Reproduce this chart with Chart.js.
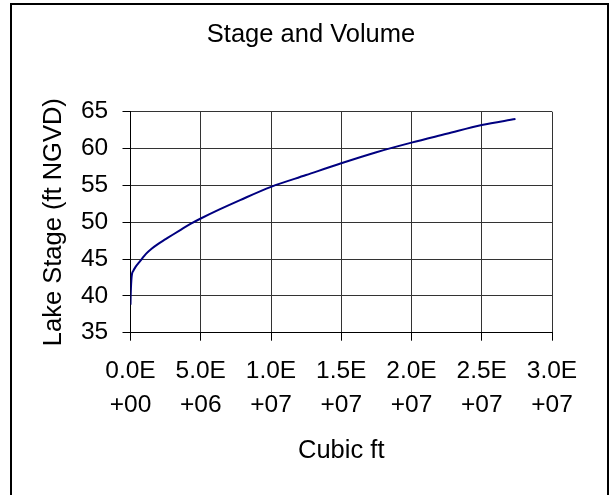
<!DOCTYPE html>
<html><head><meta charset="utf-8">
<script src="https://cdn.jsdelivr.net/npm/chart.js@4/dist/chart.umd.min.js"></script>
<style>
html,body{margin:0;padding:0;background:#fff;overflow:hidden;width:611px;height:495px}
#wrap{position:relative;width:611px;height:495px;overflow:hidden}
#frame{position:absolute;left:10px;top:3px;width:595px;height:600px;border:2px solid #000;pointer-events:none}
canvas{position:absolute;left:0;top:0}
</style></head><body>
<div id="wrap"><canvas id="c" width="611" height="495"></canvas><div id="frame"></div></div>
<script>
const chartTitle = 'Stage and Volume';
const xTitle = 'Cubic ft';
const yTitle = 'Lake Stage (ft NGVD)';
const volume = [0, 10000, 30000, 60000, 100000, 200000, 350000, 550000, 800000, 1100000, 1500000, 2000000, 2500000, 3000000, 3600000, 4300000, 5000000, 6300000, 7800000, 10000000, 12500000, 15000000, 17500000, 20000000, 22500000, 25000000, 27400000];
const stage  = [38.8, 39.8, 41.0, 42.1, 42.9, 43.4, 43.9, 44.4, 45.0, 45.7, 46.4, 47.1, 47.7, 48.3, 49.0, 49.8, 50.5, 51.7, 53.0, 54.8, 56.4, 58.0, 59.5, 60.8, 62.0, 63.2, 64.0];
const xTickLabels = [['0.0E','+00'],['5.0E','+06'],['1.0E','+07'],['1.5E','+07'],['2.0E','+07'],['2.5E','+07'],['3.0E','+07']];
const yTickLabels = ['35','40','45','50','55','60','65'];

const F = "'Liberation Sans', Arial, sans-serif";
const points = volume.map((v, i) => ({x: v, y: stage[i]}));

new Chart(document.getElementById('c').getContext('2d'), {
  type: 'scatter',
  data: {datasets: [{data: points, showLine: true, borderColor: '#000080', borderWidth: 2, pointRadius: 0, cubicInterpolationMode: 'monotone', fill: false}]},
  options: {
    responsive: false, animation: false, devicePixelRatio: 1,
    layout: {padding: {left: 11, right: 0, top: 0, bottom: 0}},
    plugins: {
      legend: {display: false}, tooltip: {enabled: false},
      title: {display: true, text: chartTitle, color: '#000', font: {family: F, size: 25.5, weight: 'normal', lineHeight: 1.2}, padding: {top: 20, bottom: 61.1}}
    },
    scales: {
      x: {
        type: 'linear', position: 'bottom', min: 0, max: 30000000,
        ticks: {stepSize: 5000000, autoSkip: false, maxRotation: 0, callback: (v, i) => xTickLabels[i], color: '#000', padding: 14.3, font: {family: F, size: 24.5, lineHeight: 1.363}},
        grid: {color: '#333333', lineWidth: 1, tickLength: 8, tickColor: '#000'},
        border: {color: '#000', width: 1},
        title: {display: true, text: xTitle, color: '#000', font: {family: F, size: 25.5, lineHeight: 1.2}, padding: {top: 0, bottom: 28.3}},
        afterFit: s => { s.height = 162.3; }
      },
      y: {
        type: 'linear', position: 'left', min: 35, max: 65,
        ticks: {stepSize: 5, autoSkip: false, callback: (v, i) => yTickLabels[i], color: '#000', padding: 14.3, font: {family: F, size: 24.5, lineHeight: 1.2}},
        grid: {color: '#333333', lineWidth: 1, tickLength: 8, tickColor: '#000'},
        border: {color: '#000', width: 1},
        title: {display: true, text: yTitle, color: '#000', font: {family: F, size: 25.5, lineHeight: 1.2}, padding: {top: 28, bottom: 0}},
        afterFit: s => { s.width = 119.5; }
      },
      y2: {
        type: 'linear', position: 'right', min: 0, max: 1,
        grid: {display: false, drawTicks: false}, border: {display: false}, ticks: {display: false},
        afterFit: s => { s.width = 59; }
      }
    }
  }
});
</script>
</body></html>
